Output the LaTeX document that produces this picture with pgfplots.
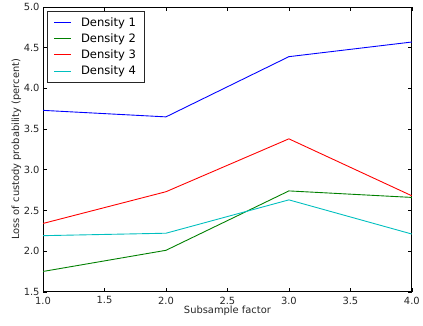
\documentclass[border=0pt]{standalone}
\usepackage{fontspec}
\setmainfont{DejaVu Sans}
\usepackage{pgfplots}
\pgfplotsset{compat=1.18}
\definecolor{mplblue}{rgb}{0,0,1}
\definecolor{mplgreen}{rgb}{0,0.5,0}
\definecolor{mplred}{rgb}{1,0,0}
\definecolor{mplcyan}{rgb}{0,0.75,0.75}
\begin{document}
\begin{tikzpicture}
\begin{axis}[
  scale only axis,
  width=373pt, height=288pt,
  xmin=1, xmax=4, ymin=1.5, ymax=5,
  xtick={1,1.5,2,2.5,3,3.5,4},
  ytick={1.5,2,2.5,3,3.5,4,4.5,5},
  minor tick num=0,
  tick align=inside,
  major tick length=4pt,
  tick style={black, line width=0.6pt},
  axis line style={black, line width=0.9pt},
  /pgf/number format/assume math mode=true,
  /pgf/number format/.cd, fixed, fixed zerofill, precision=1,
  /pgfplots/.cd,
  ticklabel style={font=\fontsize{10}{12}\selectfont, text=black!85},
  xticklabel style={yshift=-1.5pt},
  xlabel={Subsample factor},
  ylabel={Loss of custody probability (percent)},
  label style={font=\fontsize{10}{12}\selectfont, text=black!85},
  xlabel style={at={(axis description cs:0.5,0)}, anchor=base, yshift=-22pt},
  ylabel style={at={([xshift=-22pt]axis description cs:0,0.5)}, anchor=south, inner sep=0pt},
  legend style={at={(0,1)}, anchor=north west, xshift=4.5pt, yshift=-4pt,
    draw=black!85, line width=0.9pt,
    font=\fontsize{11.7}{14}\selectfont,
    nodes={font=\fontsize{11.7}{14}\selectfont, inner sep=2.5pt},
    row sep=1pt, column sep=7pt, inner xsep=6pt, inner ysep=3.5pt},
  legend cell align=left,
  every axis plot/.append style={line width=0.9pt},
]
\addplot[mplblue] coordinates {(1,3.73) (2,3.65) (3,4.39) (4,4.57)};
\addlegendentry{Density 1}
\addplot[mplgreen] coordinates {(1,1.75) (2,2.01) (3,2.74) (4,2.66)};
\addlegendentry{Density 2}
\addplot[mplred] coordinates {(1,2.34) (2,2.73) (3,3.38) (4,2.68)};
\addlegendentry{Density 3}
\addplot[mplcyan] coordinates {(1,2.19) (2,2.22) (3,2.63) (4,2.21)};
\addlegendentry{Density 4}
\end{axis}
\path (current axis.south west) ++(-43.5pt,-34pt);
\path (current axis.north east) ++(6.3pt,6pt);
\end{tikzpicture}
\end{document}
